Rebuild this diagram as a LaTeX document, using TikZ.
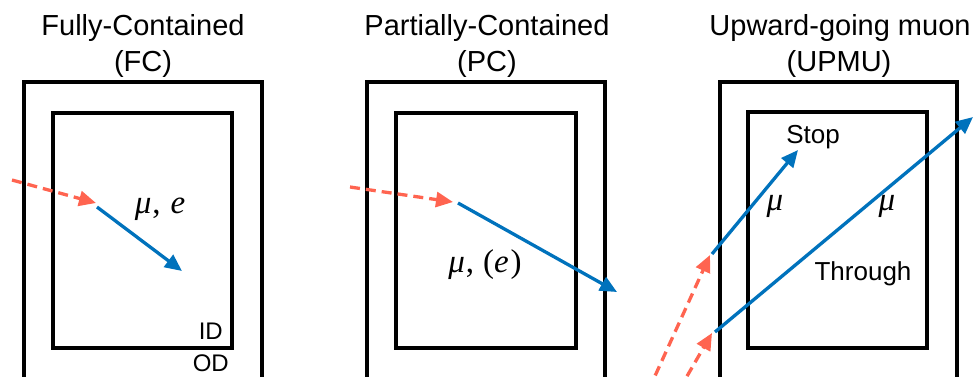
\documentclass[tikz,border=0pt]{standalone}
\usepackage{fontspec}
\setmainfont{Liberation Sans}
\newfontfamily\mathserif{Liberation Serif}
\usetikzlibrary{arrows.meta}
\definecolor{trkblue}{RGB}{0,114,188}
\definecolor{nured}{RGB}{255,100,80}
\begin{document}
\begin{tikzpicture}[x=1pt,y=-1pt,
  box/.style={draw=black,line width=3.3pt},
  titletext/.style={anchor=base,inner sep=0pt,font=\fontsize{29}{32}\selectfont},
  labeltext/.style={anchor=base,inner sep=0pt,font=\fontsize{26}{29}\selectfont},
  detlabel/.style={anchor=base east,inner sep=0pt,font=\fontsize{24}{27}\selectfont},
  mathlabel/.style={anchor=base,inner sep=0pt,font=\mathserif\fontsize{33}{36}\selectfont},
  lepton/.style={draw=trkblue,line width=3.3pt,-{Triangle[length=17pt,width=15pt]}},
  neutrino/.style={draw=nured,line width=3.3pt,dash pattern=on 10pt off 6pt,-{Triangle[length=17pt,width=15pt]}}
]
\path[use as bounding box] (0,0) rectangle (973,376);
\clip (0,0) rectangle (973,376);

% ---------- Panel 1: FC ----------
\node[titletext] (t1a) at (143,35) {Fully-Contained};
\node[titletext] (t1b) at (143,71) {(FC)};
\draw[box] (24,82) rectangle (262,400);
\draw[box] (53,113) rectangle (232,348);
\node[detlabel] (id) at (223,339) {ID};
\node[detlabel] (od) at (229,371) {OD};
\coordinate (n1s) at (12,180);
\coordinate (n1e) at (96,203);
\coordinate (l1s) at (97,207);
\coordinate (l1e) at (182,271);
\draw[neutrino] (n1s) -- (n1e);
\draw[lepton] (l1s) -- (l1e);
\node[mathlabel] (m1) at (160,213) {\itshape μ\hspace{1pt}\upshape,\hspace{10pt}\itshape e};

% ---------- Panel 2: PC ----------
\node[titletext] (t2a) at (487,35) {Partially-Contained};
\node[titletext] (t2b) at (487,71) {(PC)};
\draw[box] (367,82) rectangle (605,400);
\draw[box] (396,113) rectangle (576,348);
\coordinate (n2s) at (350,187);
\coordinate (n2e) at (453,202);
\coordinate (l2s) at (458,203);
\coordinate (l2e) at (617,292);
\draw[neutrino] (n2s) -- (n2e);
\draw[lepton] (l2s) -- (l2e);
\node[mathlabel] (m2) at (485,272) {\itshape μ\hspace{1pt}\upshape,\hspace{9pt}(\itshape e\hspace{2pt}\upshape)};

% ---------- Panel 3: UPMU ----------
\node[titletext] (t3a) at (840,35) {Upward-going muon};
\node[titletext] (t3b) at (839,71) {(UPMU)};
\draw[box] (720,82) rectangle (957,400);
\draw[box] (748,112) rectangle (927,348);
\node[labeltext] (stop) at (813,143) {Stop};
\node[labeltext] (thr) at (863,280) {Through};
\coordinate (n3s) at (648.6,390);
\coordinate (n3e) at (710,255);
\coordinate (l3s) at (712,254);
\coordinate (l3e) at (798,150);
\coordinate (n4s) at (679,390);
\coordinate (n4e) at (712,333);
\coordinate (l4s) at (715,332);
\coordinate (l4e) at (973,117);
\draw[neutrino] (n3s) -- (n3e);
\draw[lepton] (l3s) -- (l3e);
\draw[neutrino] (n4s) -- (n4e);
\draw[lepton] (l4s) -- (l4e);
\node[mathlabel] (m3) at (775,210) {\itshape μ};
\node[mathlabel] (m4) at (887,210) {\itshape μ};
\end{tikzpicture}
\end{document}
